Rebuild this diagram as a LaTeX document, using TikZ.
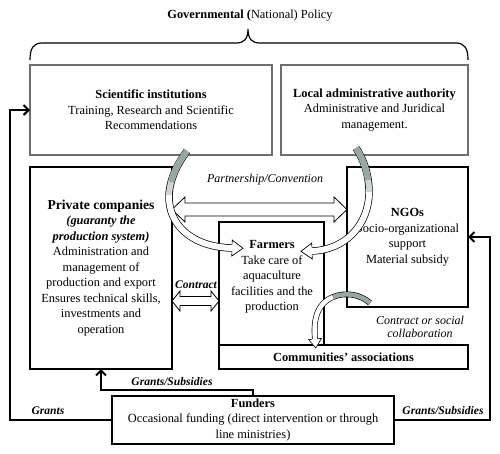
\documentclass[tikz,border=0pt]{standalone}
\usepackage{fontspec}
\setmainfont{Liberation Serif}
\usetikzlibrary{arrows.meta,calc}
\definecolor{bandgray}{RGB}{150,168,164}
\definecolor{bandlight}{RGB}{205,214,212}
\definecolor{boxgray}{RGB}{110,110,110}
\tikzset{
  box/.style={draw, line width=1.5pt, inner sep=0pt, outer sep=0pt, align=center},
  govbox/.style={box, draw=boxgray, line width=1.1pt},
  txt/.style={inner sep=0pt, align=center},
  lbl/.style={inner sep=0pt, align=center, font=\fontsize{11.6}{13}\selectfont\bfseries\itshape},
  ilbl/.style={inner sep=0pt, align=center, font=\fontsize{12}{13}\selectfont\itshape},
  feed/.style={line width=2pt, -{Straight Barb[length=5pt,width=10pt]}},
  hollow/.style={draw, line width=0.8pt, fill=white, line join=miter},
  bandout/.style={draw=black, line width=7.4pt},
  bandin/.style={line width=6pt},
  thinout/.style={draw=black, line width=5.8pt},
  thinin/.style={line width=4.5pt},
  headst/.style={draw, fill=white, line width=0.7pt, line join=miter}
}
\begin{document}
\begin{tikzpicture}[x=1pt,y=-1pt,font=\fontsize{12.4}{15.5}\selectfont]
\useasboundingbox[fill=white] (0,0) rectangle (500,453);

% title and brace
\node[txt] (title) at (250,16) {\textbf{Governmental (}National) Policy};
\draw[line width=1.2pt] (30,60) .. controls (30,49) and (33,43) .. (42,43) -- (236,43) .. controls (244,43) and (248,39) .. (248,29) .. controls (248,39) and (252,43) .. (260,43) -- (456,43) .. controls (465,43) and (468,49) .. (468,60);

% boxes
\node[govbox, minimum width=242pt, minimum height=90pt] (sci) at (151,110)
  {\textbf{Scientific institutions}\\Training, Research and Scientific\\Recommendations};
\node[govbox, minimum width=187pt, minimum height=90pt] (loc) at (374.5,110)
  {\textbf{Local administrative authority}\\Administrative and Juridical\\management.};
\node[box, minimum width=142pt, minimum height=202pt] (priv) at (101,268)
  {{\fontsize{13.6}{16}\selectfont\bfseries Private companies}\\\textbf{\textit{(guaranty the}}\\\textbf{\textit{production system)}}\\Administration and\\management of\\production and export\\Ensures technical skills,\\investments and\\operation};
\node[box, minimum width=121pt, minimum height=140pt] (ngo) at (407.5,237)
  {\textbf{NGOs}\\Socio-organizational\\support\\Material subsidy};
\node[box, line width=1.2pt, minimum width=249pt, minimum height=24pt] (comm) at (343.5,357)
  {\textbf{Communities’ associations}};
\node[box, minimum width=105pt, minimum height=123pt] (farm) at (271.5,283.5) {};
\node[txt] (farmtxt) at (272,277) {\textbf{Farmers}\\Take care of\\aquaculture\\facilities and the\\production};
\node[box, line width=1.3pt, minimum width=282pt, minimum height=48pt] (fund) at (253,420)
  {\textbf{Funders}\\Occasional funding (direct intervention or through\\line ministries)};

% funding connectors
\draw[feed] (fund.west) -- ++(-102,0) |- (sci.west);
\draw[feed] (fund.east) -- ++(96,0) |- (ngo.east);
\draw[feed] (fund.north) -- ++(0,-6) -| (priv.south);
\node[lbl] (gl) at (48,411) {Grants};
\node[lbl] (gr) at (443,411) {Grants/Subsidies};
\node[lbl] (gm) at (172,382) {Grants/Subsidies};

% partnership double arrow
\coordinate (pL) at (priv.east |- 0,209.5);
\coordinate (pR) at (ngo.west |- 0,209.5);
\draw[hollow] (pL) -- ++(13,-12.5) -- ++(0,6) -- ($(pR)+(-13,-6.5)$) -- ++(0,-6) -- (pR) -- ++(-13,12.5) -- ++(0,-6) -- ($(pL)+(13,6.5)$) -- ++(0,6) -- cycle;
\node[ilbl] (plbl) at (265,180) {Partnership/Convention};

% contract double arrow
\coordinate (cL) at (priv.east |- 0,301);
\coordinate (cR) at (farm.west |- 0,301);
\draw[hollow] (cL) -- ++(8,-10) -- ++(0,5.5) -- ($(cR)+(-8,-4.5)$) -- ++(0,-5.5) -- (cR) -- ++(-8,10) -- ++(0,-5.5) -- ($(cL)+(8,4.5)$) -- ++(0,5.5) -- cycle;
\node[lbl] (clbl) at (196,285) {Contract};
\node[ilbl] (cslbl) at (420,326.5) {Contract or social\\collaboration};

% curved band arrow 1: Scientific institutions -> Farmers
\coordinate (a1s) at (187,151); \coordinate (a1m) at (169,195); \coordinate (a1e) at (232,248);
\coordinate (a1c) at (192,247);
\draw[bandout] (a1s) .. controls (178,163) and (170,178) .. (a1m) .. controls (168,225) and (a1c) .. (a1e);
\draw[bandin, white] (a1m) .. controls (168,225) and (a1c) .. (a1e);
\draw[bandin, bandlight] (a1s) .. controls (178,163) and (170,178) .. (a1m);
\draw[bandin, bandgray] (a1s) .. controls (179,161) and (174,170) .. (171,182);
\draw[headst] ($(a1e)!3.7pt!90:(a1c)$) -- ($(a1e)!8pt!90:(a1c)$) -- ($(a1e)!-11pt!(a1c)$) -- ($(a1e)!8pt!-90:(a1c)$) -- ($(a1e)!3.7pt!-90:(a1c)$);

% curved band arrow 2: Local administrative authority -> Farmers
\coordinate (a2s) at (356,148); \coordinate (a2m) at (369,192); \coordinate (a2e) at (312,251);
\coordinate (a2c) at (345,250);
\draw[bandout] (a2s) .. controls (364,160) and (369,175) .. (a2m) .. controls (369,225) and (a2c) .. (a2e);
\draw[bandin, white] (a2m) .. controls (369,225) and (a2c) .. (a2e);
\draw[bandin, bandlight] (a2s) .. controls (364,160) and (369,175) .. (a2m);
\draw[bandin, bandgray] (a2s) .. controls (362,157) and (366,168) .. (368,180);
\draw[headst] ($(a2e)!3.7pt!90:(a2c)$) -- ($(a2e)!8pt!90:(a2c)$) -- ($(a2e)!-11pt!(a2c)$) -- ($(a2e)!8pt!-90:(a2c)$) -- ($(a2e)!3.7pt!-90:(a2c)$);

% curved band arrow 3: NGOs -> Communities' associations
\coordinate (a3s) at (370,303); \coordinate (a3m) at (333,297); \coordinate (a3e) at (315,339);
\coordinate (a3c) at (313,318);
\draw[thinout] (a3s) .. controls (360,294) and (345,292) .. (a3m) .. controls (318,303) and (a3c) .. (a3e);
\draw[thinin, white] (a3m) .. controls (318,303) and (a3c) .. (a3e);
\draw[thinin, bandgray] (a3s) .. controls (360,294) and (345,292) .. (a3m);
\draw[headst, line width=0.6pt] ($(a3e)!2.9pt!90:(a3c)$) -- ($(a3e)!6.5pt!90:(a3c)$) -- ($(a3e)!-9pt!(a3c)$) -- ($(a3e)!6.5pt!-90:(a3c)$) -- ($(a3e)!2.9pt!-90:(a3c)$);
\end{tikzpicture}
\end{document}
